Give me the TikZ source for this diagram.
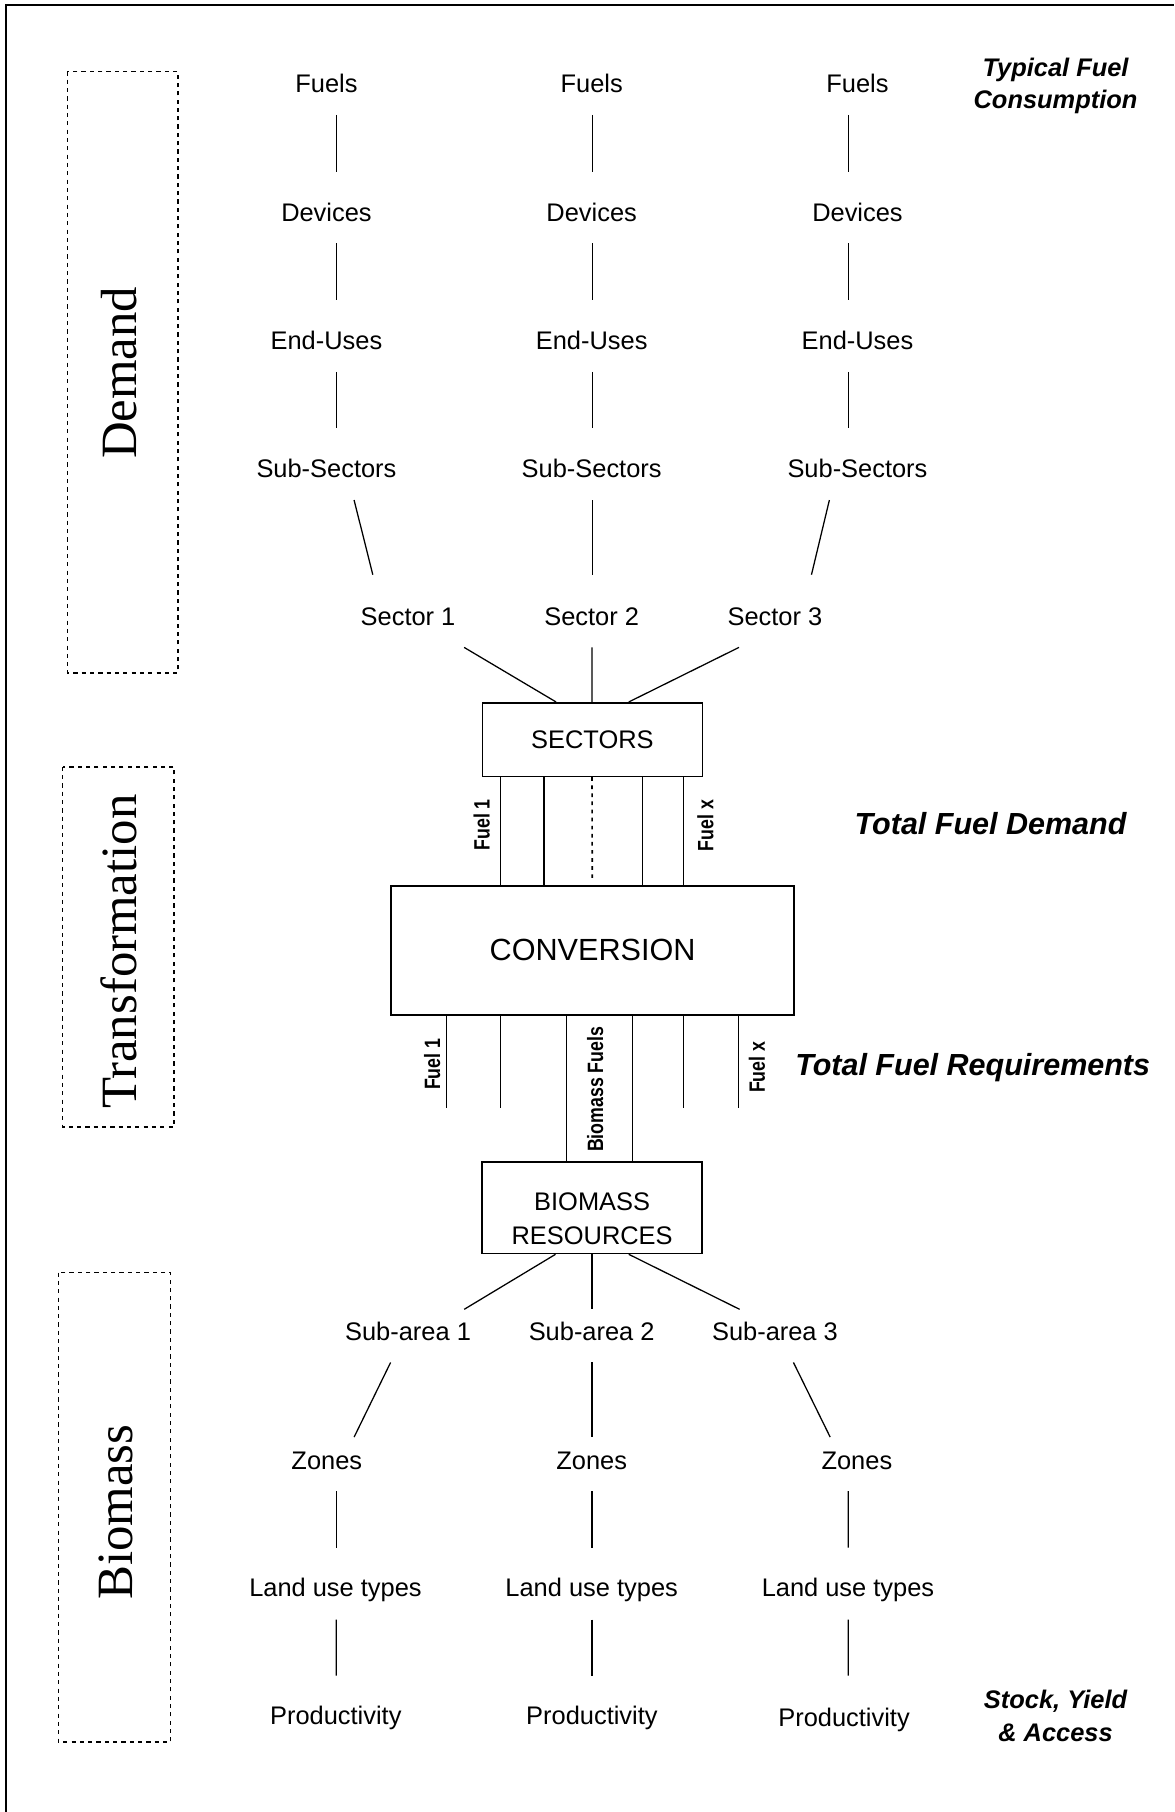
\documentclass[tikz,border=0pt]{standalone}
\usepackage{fontspec}
\setmainfont{Liberation Sans}
\newfontfamily\secfont{Liberation Serif}
\newfontfamily\narrowsans[FakeStretch=0.8]{Liberation Sans}
\begin{document}
\begin{tikzpicture}[x=0.5pt,y=-0.5pt,
  lbl/.style={font=\fontsize{11}{13}\selectfont, inner sep=0pt, text height=7.9pt, text depth=0pt},
  rlbl/.style={font=\bfseries\itshape\fontsize{11}{13}\selectfont, inner sep=0pt, text height=7.9pt, text depth=0pt},
  tot/.style={font=\bfseries\itshape\fontsize{13.2}{15}\selectfont, inner sep=0pt, text height=9.45pt, text depth=0pt},
  fl/.style={font=\narrowsans\bfseries\fontsize{9.6}{11}\selectfont, inner sep=0pt, text height=6.9pt, text depth=0pt, rotate=90},
  sec/.style={font=\secfont\fontsize{22}{26}\selectfont, inner sep=0pt, text height=14.6pt, text depth=0pt, rotate=90},
  box/.style={draw, line width=0.7pt, inner sep=0pt},
  conn/.style={line width=0.55pt},
  secbox/.style={draw, line width=0.7pt, dash pattern=on 1.8pt off 1.8pt},
]
\useasboundingbox (0,0) rectangle (1016,1568);
% frame (only top and left edges visible)
\draw[line width=0.9pt] (5.2,1568) -- (5.2,4.3) -- (1016,4.3);

% section boxes and labels
\draw[secbox] (58.3,61.8) rectangle (154.2,582.2);
\draw[secbox] (54.2,663.5) rectangle (150.6,975);
\draw[secbox] (50.5,1101.2) rectangle (147.7,1507.4);
\node[sec] (sdem) at (103.7,322.6) {Demand};
\node[sec] (stra) at (103.9,823.5) {Transformation};
\node[sec] (sbio) at (100.4,1308.5) {Biomass};

% demand tree
\node[lbl] (fu1) at (282.5,72.3) {Fuels};
\node[lbl] (fu2) at (512,72.3) {Fuels};
\node[lbl] (fu3) at (742,72.3) {Fuels};
\node[lbl] (dev1) at (282.5,183.5) {Devices};
\node[lbl] (dev2) at (512,183.5) {Devices};
\node[lbl] (dev3) at (742,183.5) {Devices};
\node[lbl] (eu1) at (282.5,294.8) {End-Uses};
\node[lbl] (eu2) at (512,294.8) {End-Uses};
\node[lbl] (eu3) at (742,294.8) {End-Uses};
\node[lbl] (ss1) at (282.5,405.7) {Sub-Sectors};
\node[lbl] (ss2) at (512,405.7) {Sub-Sectors};
\node[lbl] (ss3) at (742,405.7) {Sub-Sectors};
\node[lbl] (se1) at (353.1,533) {Sector 1};
\node[lbl] (se2) at (512,533) {Sector 2};
\node[lbl] (se3) at (670.6,533) {Sector 3};

\foreach \a/\b in {fu/dev, dev/eu, eu/ss} {
  \draw[conn] ([shift={(8.5,27)}]\a1.center) -- ([shift={(8.5,-35)}]\b1.center);
  \draw[conn] ([shift={(0.5,27)}]\a2.center) -- ([shift={(0.5,-35)}]\b2.center);
  \draw[conn] ([shift={(-8,27)}]\a3.center) -- ([shift={(-8,-35)}]\b3.center);
}
\draw[conn] ([shift={(23.9,27)}]ss1.center) -- ([shift={(-30.5,-35.7)}]se1.center);
\draw[conn] ([shift={(0.5,27)}]ss2.center) -- ([shift={(0.5,-35.7)}]se2.center);
\draw[conn] ([shift={(-24.3,27)}]ss3.center) -- ([shift={(31.6,-35.7)}]se3.center);

% SECTORS box
\node[box, minimum width=95.2pt, minimum height=31.85pt, font=\fontsize{11}{13}\selectfont] (sbox) at (512.6,640) {SECTORS};
\draw[conn] ([shift={(48.5,27.2)}]se1.center) -- ([shift={(-31.4,0)}]sbox.north);
\draw[conn] ([shift={(0.3,27.2)}]se2.center) -- ([shift={(-0.3,0)}]sbox.north);
\draw[conn] ([shift={(-31.1,27.2)}]se3.center) -- ([shift={(31.5,0)}]sbox.north);

% CONVERSION box
\node[box, minimum width=174.4pt, minimum height=55.65pt, font=\fontsize{13.25}{16}\selectfont] (conv) at (512.8,822.45) {CONVERSION};

\foreach \n/\dx in {a/-79.3, b/-41.8, d/43.3, e/79.1} {
  \coordinate (up\n) at ([shift={(\dx,0)}]sbox.south);
  \draw[conn] (up\n) -- (up\n |- conv.north);
}
\coordinate (upc) at ([shift={(-0.3,0)}]sbox.south);
\coordinate (upcend) at ([shift={(-0.3,-5)}]conv.north);
\draw[line width=0.7pt, dash pattern=on 1.6pt off 1.9pt] (upc) -- (upcend);
\node[fl] (lf1) at (416.8,713.7) {Fuel 1};
\node[fl] (lfx) at (610.4,714.4) {Fuel x};

% BIOMASS RESOURCES box
\node[box, minimum width=95.2pt, minimum height=39.6pt] (bres) at (512.4,1045.1) {};
\node[lbl] (bres1) at (512.4,1040) {BIOMASS};
\node[lbl] (bres2) at (512.4,1069) {RESOURCES};

\foreach \n/\dx in {a/-126.5, b/-79.5, e/78.9, f/126.5} {
  \coordinate (lo\n) at ([shift={(\dx,0)}]conv.south);
  \coordinate (le\n) at ([shift={(\dx,79.6)}]conv.south);
  \draw[conn] (lo\n) -- (le\n);
}
\coordinate (loc) at ([shift={(-22.6,0)}]conv.south);
\coordinate (lod) at ([shift={(34.7,0)}]conv.south);
\draw[conn] (loc) -- (loc |- bres.north);
\draw[conn] (lod) -- (lod |- bres.north);
\node[fl] (lf1b) at (374,921) {Fuel 1};
\node[fl] (lbf) at (515,942.6) {Biomass Fuels};
\node[fl] (lfxb) at (655,923.6) {Fuel x};

% biomass tree
\node[lbl] (sa1) at (353.1,1152.3) {Sub-area 1};
\node[lbl] (sa2) at (512,1152.3) {Sub-area 2};
\node[lbl] (sa3) at (670.6,1152.3) {Sub-area 3};
\node[lbl] (zo1) at (282.8,1263.8) {Zones};
\node[lbl] (zo2) at (512,1263.8) {Zones};
\node[lbl] (zo3) at (741.5,1263.8) {Zones};
\node[lbl] (lu1) at (290.3,1374) {Land use types};
\node[lbl] (lu2) at (512,1374) {Land use types};
\node[lbl] (lu3) at (733.8,1374) {Land use types};
\node[lbl] (pr1) at (290.6,1484.7) {Productivity};
\node[lbl] (pr2) at (512.2,1484.7) {Productivity};
\node[lbl] (pr3) at (730.4,1486.5) {Productivity};

\draw[conn] ([shift={(-31.7,0)}]bres.south) -- ([shift={(48.6,-19.3)}]sa1.center);
\draw[conn] ([shift={(-0.1,0)}]bres.south) -- ([shift={(0.3,-19.3)}]sa2.center);
\draw[conn] ([shift={(31.7,0)}]bres.south) -- ([shift={(-30.6,-19.3)}]sa3.center);

\draw[conn] ([shift={(-15.1,26.7)}]sa1.center) -- ([shift={(23.6,-20.2)}]zo1.center);
\draw[conn] ([shift={(0.3,26.7)}]sa2.center) -- ([shift={(0.3,-20.2)}]zo2.center);
\draw[conn] ([shift={(16,26.7)}]sa3.center) -- ([shift={(-23.1,-20.2)}]zo3.center);

\draw[conn] ([shift={(8.2,26.6)}]zo1.center) -- ([shift={(0.7,-34.7)}]lu1.center);
\draw[conn] ([shift={(0.3,26.6)}]zo2.center) -- ([shift={(0.3,-34.7)}]lu2.center);
\draw[conn] ([shift={(-7.5,26.6)}]zo3.center) -- ([shift={(0.2,-34.7)}]lu3.center);

\draw[conn] ([shift={(0.7,27.5)}]lu1.center) -- ([shift={(0.4,-34.7)}]pr1.center);
\draw[conn] ([shift={(0.3,27.5)}]lu2.center) -- ([shift={(0.1,-34.7)}]pr2.center);
\draw[conn] ([shift={(0.2,27.5)}]lu3.center) -- ([shift={(3.6,-36.5)}]pr3.center);

% side annotations
\node[rlbl] (tf1) at (913.4,58) {Typical Fuel};
\node[rlbl] (tf2) at (913.4,85.8) {Consumption};
\node[tot] (tfd) at (857.2,713) {Total Fuel Demand};
\node[tot] (tfr) at (841.7,921) {Total Fuel Requirements};
\node[rlbl] (sy1) at (913.4,1470.2) {Stock, Yield};
\node[rlbl] (sy2) at (913.4,1499.4) {\& Access};
\end{tikzpicture}
\end{document}
